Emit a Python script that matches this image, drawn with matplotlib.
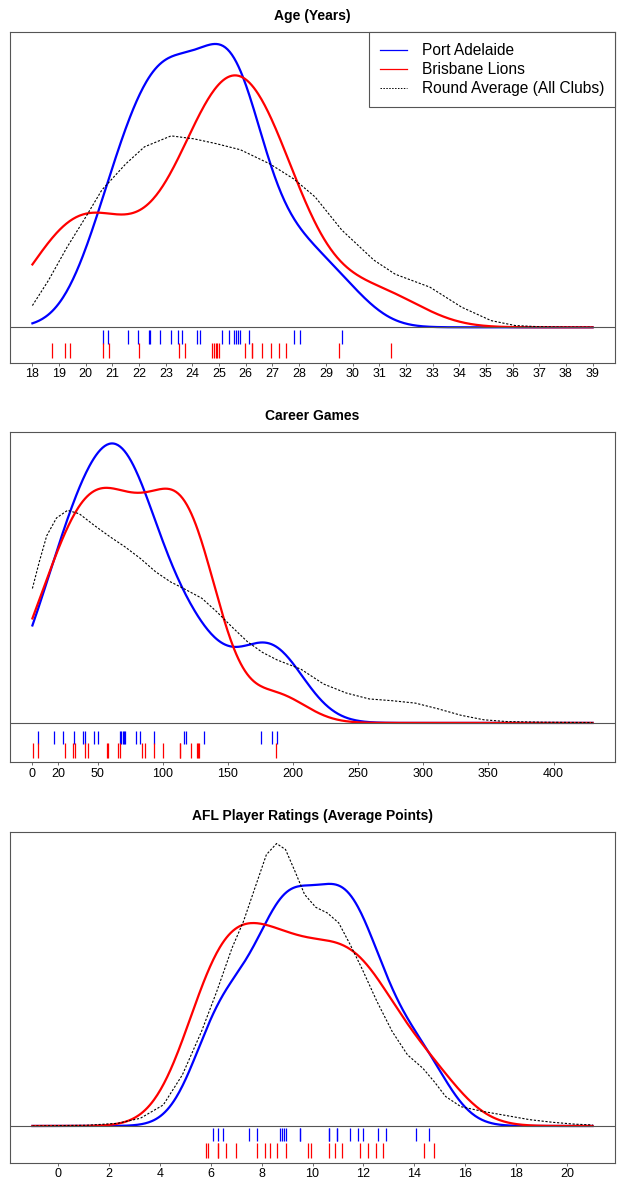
import numpy as np
import matplotlib.pyplot as plt
from matplotlib.lines import Line2D

plt.rcParams["font.family"] = ["Liberation Sans", "DejaVu Sans"]

# --- Age (years) of each listed player ---
age_port = [20.64, 20.84, 21.59, 21.97, 22.36, 22.40, 22.80, 23.20, 23.46, 23.60, 24.18,
            24.28, 25.12, 25.37, 25.54, 25.63, 25.71, 25.79, 26.13, 27.79, 28.04, 29.62]
age_bris = [18.72, 19.21, 19.41, 20.66, 20.88, 21.99, 23.51, 23.71, 24.72, 24.82, 24.88,
            24.93, 25.00, 25.96, 26.24, 26.24, 26.60, 26.93, 27.26, 27.50, 29.50, 31.43]
# round average curve
age_avg_x = [18.0, 18.6, 19.3, 20.0, 20.6, 21.5, 22.2, 23.2, 24.05, 24.9, 25.8, 26.9, 27.8,
             28.6, 29.6, 30.8, 31.6, 32.9, 34.1, 35.2, 36.1, 37.0, 38.0, 39.0]
age_avg_y = [0.0111, 0.0239, 0.0409, 0.0563, 0.0700, 0.0834, 0.0921, 0.0977, 0.0962, 0.0937,
             0.0906, 0.0834, 0.0757, 0.0665, 0.0496, 0.0343, 0.0271, 0.0205, 0.0102, 0.0034,
             0.0009, 0.0003, 0.0001, 0.00005]

# --- Career games ---
games_port = [4.1, 16.2, 23.1, 32.3, 39.2, 40.0, 47.4, 50.3, 67.2, 68.2, 69.2, 70.3, 71.3,
              79.2, 82.3, 93.3, 116.4, 118.2, 131.8, 175.6, 183.8, 188.0]
games_bris = [0.5, 4.6, 25.1, 31.0, 32.6, 40.5, 42.3, 57.2, 58.2, 65.4, 66.9, 84.4, 86.2,
              93.3, 100.3, 113.6, 113.6, 121.8, 126.4, 127.4, 128.2, 186.9]
games_avg_x = [0, 5.3, 11, 18.5, 27, 36, 47.7, 59.5, 71, 83, 94.6, 106, 115, 130, 141.5, 153,
               165, 176.6, 188, 206, 223.5, 241, 258.6, 276, 294, 311, 329, 346.5, 364, 393, 430]
games_avg_y = [0.00387, 0.00464, 0.00539, 0.00590, 0.00612, 0.00602, 0.00568, 0.00536,
               0.00507, 0.00473, 0.00435, 0.00406, 0.00389, 0.00359, 0.00320, 0.00277,
               0.00234, 0.00203, 0.00181, 0.00155, 0.00112, 0.00086, 0.00069, 0.00064,
               0.00057, 0.00041, 0.00022, 0.00009, 0.00004, 0.00002, 0.00001]

# --- AFL player ratings (average points) ---
rating_port = [6.11, 6.29, 6.50, 7.51, 7.82, 8.73, 8.81, 8.87, 8.94, 9.51, 9.51, 10.66, 10.66,
               10.96, 10.96, 11.48, 11.78, 11.97, 12.58, 12.87, 14.08, 14.57]
rating_bris = [5.81, 5.91, 6.30, 6.30, 6.62, 7.01, 7.82, 8.13, 8.32, 8.62, 8.94, 9.83, 9.93,
               10.66, 10.87, 11.17, 11.87, 12.18, 12.48, 12.78, 14.38, 14.78]
rating_avg_x = [-1, 1.14, 2.34, 3.24, 4.14, 4.89, 5.64, 6.24, 6.84, 7.29, 7.74, 8.19, 8.59,
                8.94, 9.31, 9.69, 10.13, 10.58, 11.03, 11.48, 11.93, 12.53, 13.13, 13.73,
                14.33, 14.78, 15.23, 15.83, 16.73, 17.63, 18.53, 19.43, 20.33, 21]
rating_avg_y = [0.0, 0.0004, 0.0015, 0.0044, 0.0120, 0.0292, 0.0539, 0.0768, 0.1016, 0.1168,
                0.1359, 0.1549, 0.1612, 0.1578, 0.1454, 0.1321, 0.1248, 0.1216, 0.1159,
                0.1035, 0.0902, 0.0711, 0.0539, 0.0406, 0.0330, 0.0253, 0.0168, 0.0110,
                0.0082, 0.0059, 0.0036, 0.0021, 0.0010, 0.0006]


def kde(values, lo, hi):
    # gaussian kernel, R's default bandwidth (bw.nrd0)
    x = np.asarray(values, dtype=float)
    n = len(x)
    q75, q25 = np.percentile(x, [75, 25])
    bw = 0.9 * min(x.std(ddof=1), (q75 - q25) / 1.34) * n ** -0.2
    grid = np.linspace(lo, hi, 512)
    z = (grid[:, None] - x[None, :]) / bw
    dens = np.exp(-0.5 * z ** 2).sum(axis=1) / (n * bw * np.sqrt(2 * np.pi))
    return grid, dens


def panel(ax, title, port, bris, avg_x, avg_y, lo, hi, ticks, base, rug_b, rug_r):
    gx, dp = kde(port, lo, hi)
    _, db = kde(bris, lo, hi)
    m = max(dp.max(), db.max(), max(avg_y))
    span = m / (0.965 - base)
    ax.set_ylim(-base * span, (1 - base) * span)
    xr = hi - lo
    ax.set_xlim(lo - 0.04 * xr, hi + 0.04 * xr)

    ax.plot(gx, dp, color="blue", lw=1.6)
    ax.plot(gx, db, color="red", lw=1.6)
    ax.plot(avg_x, avg_y, color="black", lw=0.8, ls=(0, (2, 1.5)))
    ax.axhline(0, color="#555555", lw=0.8)

    trans = ax.get_xaxis_transform()
    ax.vlines(port, rug_b[0], rug_b[1], transform=trans, color="blue", lw=0.9)
    ax.vlines(bris, rug_r[0], rug_r[1], transform=trans, color="red", lw=0.9)

    ax.set_xticks(ticks)
    ax.set_yticks([])
    ax.tick_params(axis="x", length=2.5, width=0.6, pad=1.5, labelsize=9, color="#555555")
    for s in ax.spines.values():
        s.set_color("#555555")
        s.set_linewidth(0.8)
    ax.text(0.5, 1 + 16 / 330, title, transform=ax.transAxes, ha="center", va="center",
            fontsize=10, fontweight="bold")


fig = plt.figure(figsize=(6.25, 12), dpi=100)
ax1 = fig.add_axes([0.016, 0.6978, 0.968, 0.2752])
ax2 = fig.add_axes([0.016, 0.3648, 0.968, 0.2753])
ax3 = fig.add_axes([0.016, 0.0311, 0.968, 0.2756])

panel(ax1, "Age (Years)", age_port, age_bris, age_avg_x, age_avg_y, 18, 39,
      list(range(18, 40)), 0.107, (0.099, 0.057), (0.059, 0.013))
panel(ax2, "Career Games", games_port, games_bris, games_avg_x, games_avg_y, 0, 430,
      [0, 20, 50, 100, 150, 200, 250, 300, 350, 400], 0.119, (0.095, 0.055), (0.058, 0.014))
panel(ax3, "AFL Player Ratings (Average Points)", rating_port, rating_bris,
      rating_avg_x, rating_avg_y, -1, 21, list(range(0, 21, 2)), 0.111,
      (0.105, 0.065), (0.059, 0.013))

handles = [Line2D([], [], color="blue", lw=0.9),
           Line2D([], [], color="red", lw=0.9),
           Line2D([], [], color="black", lw=0.7, ls=(0, (1.5, 1.5)))]
leg = ax1.legend(handles, ["Port Adelaide", "Brisbane Lions", "Round Average (All Clubs)"],
                 loc="upper right", borderaxespad=0, fancybox=False, fontsize=11.2,
                 handlelength=1.75, handletextpad=0.95, labelspacing=0.26, borderpad=0.7,
                 framealpha=1)
leg.get_frame().set_edgecolor("#555555")
leg.get_frame().set_linewidth(0.8)

fig.savefig("out.png", dpi=100)
